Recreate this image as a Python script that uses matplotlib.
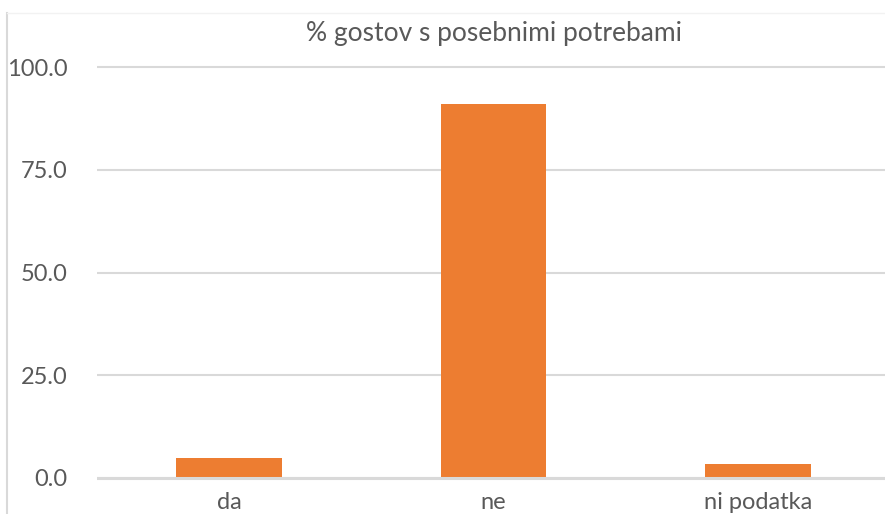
import matplotlib
matplotlib.use("Agg")
import matplotlib.pyplot as plt
from matplotlib.lines import Line2D

plt.rcParams["font.family"] = ["Lato", "DejaVu Sans"]

categories = ["da", "ne", "ni podatka"]
values = [4.9, 91.1, 3.4]
yticks = [0, 25, 50, 75, 100]

W, H = 885, 514
fig = plt.figure(figsize=(W / 100, H / 100), dpi=100)

# plot area in pixel coordinates
left, right = 97, 890
ymin, ymax = -1, 104
px_per_unit = (478 - 67.3) / 100
bottom_px = 478 + px_per_unit * (0 - ymin)
top_px = 67.3 - px_per_unit * (ymax - 100)
ax = fig.add_axes([left / W, 1 - bottom_px / H, (right - left) / W, (bottom_px - top_px) / H])

ax.bar(range(len(categories)), values, width=0.40, color="#ED7D31", zorder=3)
ax.set_xlim(-0.5, len(categories) - 0.5)
ax.set_ylim(ymin, ymax)

ax.set_yticks(yticks)
ax.set_yticklabels([f"{v:.1f}" for v in yticks])
ax.set_xticks(range(len(categories)))
ax.set_xticklabels(categories)
ax.tick_params(axis="y", length=0, pad=21, labelsize=17, labelcolor="#595959")
ax.tick_params(axis="x", length=0, pad=7, labelsize=17, labelcolor="#595959")

ax.grid(axis="y", color="#d9d9d9", linewidth=1.5, zorder=0)
for s in ax.spines.values():
    s.set_visible(False)
ax.axhline(0, color="#d9d9d9", linewidth=2.2, zorder=4)

fig.text(494 / W, 1 - 33 / H, "% gostov s posebnimi potrebami",
         ha="center", va="center", fontsize=19, color="#595959")

# chart frame
fig.add_artist(Line2D([7 / W, 7 / W], [0, 1 - 13 / H], transform=fig.transFigure,
                      color="#d9d9d9", linewidth=1.5))
fig.add_artist(Line2D([7 / W, 1], [1 - 13 / H, 1 - 13 / H], transform=fig.transFigure,
                      color="#f2f2f2", linewidth=1))

fig.savefig("out.png", dpi=100)
